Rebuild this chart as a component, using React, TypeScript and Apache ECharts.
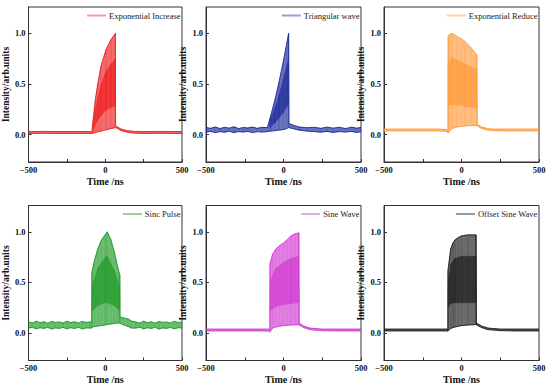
import { useEffect, useRef } from "react";
import * as echarts from "echarts";

const NAMES = ["Exponential Increase", "Triangular wave", "Exponential Reduce", "Sinc Pulse", "Sine Wave", "Offset Sine Wave"];
const COLORS = ["#ee1f1f", "#1c2a9a", "#ff9a3a", "#1e9a26", "#d13ad1", "#1c1c1c"];
const Y_TICKS = [0, 0.5, 1.0];

// Plot 1: Exponential Increase
const T1 = [-500, -400, -300, -200, -87, -81, -64, -49, -27, 5, 38, 66, 67, 80, 103, 140, 189, 250, 350, 500];
const HI1 = [0.03, 0.032, 0.03, 0.031, 0.03, 0.12, 0.35, 0.5, 0.68, 0.84, 0.94, 1.0, 0.09, 0.075, 0.055, 0.04, 0.032, 0.03, 0.031, 0.03];
const LO1 = [0.012, 0.013, 0.012, 0.012, 0.012, 0.015, 0.022, 0.028, 0.035, 0.048, 0.06, 0.07, 0.07, 0.06, 0.04, 0.025, 0.015, 0.012, 0.013, 0.012];
const TI1 = [-81, -64, -49, -27, 5, 38, 65];
const INLO1 = [0.04, 0.1, 0.14, 0.19, 0.24, 0.27, 0.28];
const INHI1 = [0.09, 0.26, 0.37, 0.5, 0.63, 0.7, 0.75];

// Plot 2: Triangular wave
const T2 = [-500, -470, -440, -410, -380, -350, -320, -290, -260, -230, -200, -170, -140, -104, -80, -54, -30, 0, 20, 33, 35, 60, 100, 150, 200, 240, 280, 320, 360, 400, 440, 470, 500];
const HI2 = [0.07, 0.062, 0.076, 0.06, 0.072, 0.064, 0.078, 0.06, 0.07, 0.066, 0.075, 0.062, 0.072, 0.07, 0.2, 0.35, 0.51, 0.73, 0.89, 1.0, 0.11, 0.095, 0.075, 0.068, 0.072, 0.062, 0.074, 0.064, 0.072, 0.06, 0.074, 0.064, 0.07];
const LO2 = [0.025, 0.032, 0.02, 0.03, 0.024, 0.033, 0.02, 0.03, 0.026, 0.032, 0.02, 0.03, 0.025, 0.03, 0.035, 0.04, 0.045, 0.05, 0.06, 0.07, 0.07, 0.06, 0.045, 0.035, 0.03, 0.024, 0.032, 0.022, 0.03, 0.026, 0.032, 0.022, 0.028];
const TI2 = [-90, -54, -30, 0, 20, 32];
const INLO2 = [0.06, 0.12, 0.16, 0.22, 0.27, 0.3];
const INHI2 = [0.13, 0.27, 0.39, 0.56, 0.68, 0.76];

// Plot 3: Exponential Reduce
const T3 = [-500, -300, -150, -95, -87, -86, -75, -61, -30, 0, 22, 60, 98, 100, 101, 130, 170, 200, 300, 500];
const HI3 = [0.055, 0.055, 0.055, 0.05, 0.03, 0.97, 0.99, 1.0, 0.97, 0.945, 0.92, 0.86, 0.79, 0.79, 0.105, 0.075, 0.06, 0.055, 0.055, 0.055];
const LO3 = [0.037, 0.037, 0.037, 0.033, 0.015, 0.02, 0.04, 0.06, 0.075, 0.082, 0.086, 0.09, 0.09, 0.09, 0.085, 0.06, 0.045, 0.04, 0.037, 0.037];
const TI3 = [-86, -61, -30, 0, 22, 60, 99];
const INLO3 = [0.29, 0.3, 0.29, 0.285, 0.28, 0.27, 0.26];
const INHI3 = [0.73, 0.76, 0.74, 0.72, 0.7, 0.67, 0.64];

// Plot 4: Sinc Pulse
const T4 = [-500, -475, -450, -425, -400, -375, -350, -325, -300, -275, -250, -225, -200, -175, -150, -125, -100, -88, -87, -70, -49, -25, -1, 12, 35, 59, 80, 92, 95, 96, 120, 150, 170, 200, 225, 250, 275, 300, 325, 350, 375, 400, 425, 450, 475, 500];
const HI4 = [0.11, 0.1, 0.118, 0.104, 0.112, 0.098, 0.116, 0.106, 0.11, 0.1, 0.118, 0.104, 0.112, 0.1, 0.116, 0.106, 0.11, 0.11, 0.6, 0.72, 0.83, 0.92, 0.97, 1.0, 0.93, 0.8, 0.66, 0.59, 0.58, 0.16, 0.15, 0.14, 0.12, 0.11, 0.1, 0.118, 0.104, 0.112, 0.098, 0.116, 0.106, 0.11, 0.1, 0.118, 0.104, 0.11];
const LO4 = [0.05, 0.058, 0.042, 0.054, 0.046, 0.058, 0.04, 0.052, 0.047, 0.057, 0.042, 0.054, 0.046, 0.058, 0.041, 0.052, 0.05, 0.05, 0.06, 0.065, 0.07, 0.075, 0.08, 0.085, 0.09, 0.095, 0.1, 0.1, 0.1, 0.1, 0.08, 0.065, 0.05, 0.05, 0.058, 0.042, 0.054, 0.046, 0.058, 0.04, 0.052, 0.047, 0.057, 0.042, 0.054, 0.05];
const TI4 = [-86, -49, -1, 12, 59, 94];
const INLO4 = [0.22, 0.27, 0.3, 0.3, 0.27, 0.22];
const INHI4 = [0.47, 0.64, 0.75, 0.77, 0.62, 0.46];

// Plot 5: Sine Wave
const T5 = [-500, -300, -150, -95, -88, -87, -70, -50, -25, 0, 25, 48, 75, 98, 100, 101, 130, 170, 250, 350, 500];
const HI5 = [0.04, 0.04, 0.04, 0.04, 0.03, 0.69, 0.78, 0.83, 0.865, 0.89, 0.925, 0.96, 0.98, 0.99, 0.99, 0.1, 0.07, 0.05, 0.04, 0.04, 0.04];
const LO5 = [0.022, 0.022, 0.022, 0.02, 0.01, 0.015, 0.05, 0.06, 0.068, 0.075, 0.078, 0.08, 0.082, 0.083, 0.083, 0.08, 0.055, 0.035, 0.024, 0.022, 0.022];
const TI5 = [-86, -50, 0, 48, 99];
const INLO5 = [0.22, 0.26, 0.28, 0.29, 0.3];
const INHI5 = [0.52, 0.64, 0.7, 0.74, 0.76];

// Plot 6: Offset Sine Wave
const T6 = [-500, -300, -150, -95, -88, -87, -70, -55, -43, -20, 0, 40, 93, 95, 96, 130, 170, 250, 350, 500];
const HI6 = [0.04, 0.04, 0.04, 0.04, 0.035, 0.62, 0.83, 0.89, 0.92, 0.945, 0.96, 0.97, 0.97, 0.97, 0.1, 0.07, 0.05, 0.04, 0.04, 0.04];
const LO6 = [0.022, 0.022, 0.022, 0.022, 0.02, 0.025, 0.045, 0.055, 0.06, 0.068, 0.075, 0.08, 0.085, 0.085, 0.08, 0.055, 0.035, 0.025, 0.022, 0.022];
const TI6 = [-86, -70, -43, 0, 94];
const INLO6 = [0.25, 0.29, 0.3, 0.3, 0.3];
const INHI6 = [0.5, 0.68, 0.74, 0.76, 0.76];

const PLOTS = [
  { t: T1, hi: HI1, lo: LO1, ti: TI1, inlo: INLO1, inhi: INHI1 },
  { t: T2, hi: HI2, lo: LO2, ti: TI2, inlo: INLO2, inhi: INHI2 },
  { t: T3, hi: HI3, lo: LO3, ti: TI3, inlo: INLO3, inhi: INHI3 },
  { t: T4, hi: HI4, lo: LO4, ti: TI4, inlo: INLO4, inhi: INHI4 },
  { t: T5, hi: HI5, lo: LO5, ti: TI5, inlo: INLO5, inhi: INHI5 },
  { t: T6, hi: HI6, lo: LO6, ti: TI6, inlo: INLO6, inhi: INHI6 },
];

const LEFTS = [27, 206, 384];
const TOPS = [7, 205.5];
const W = 155;
const H = 155;
const FONT = "'Liberation Serif', 'Times New Roman', serif";

function fmtX(v: number) {
  if (v % 500 !== 0) return "";
  if (v < 0) return "\u2212" + Math.abs(v);
  return String(v);
}

// segments [t0, lo0, hi0, t1, lo1, hi1] for a band polygon
function segments(t: number[], lo: number[], hi: number[]) {
  const out: number[][] = [];
  for (let k = 0; k < t.length - 1; k++) out.push([t[k], lo[k], hi[k], t[k + 1], lo[k + 1], hi[k + 1]]);
  return out;
}

function bandSeries(i: number, data: number[][], color: string, opacity: number, z: number) {
  return {
    type: "custom",
    xAxisIndex: i,
    yAxisIndex: i,
    clip: true,
    z,
    silent: true,
    encode: { x: [0, 3], y: [1, 2, 4, 5] },
    data,
    renderItem: (_params: any, api: any) => {
      const a = api.coord([api.value(0), api.value(1)]);
      const b = api.coord([api.value(0), api.value(2)]);
      const c = api.coord([api.value(3), api.value(5)]);
      const d = api.coord([api.value(3), api.value(4)]);
      return {
        type: "polygon",
        shape: { points: [a, b, c, d] },
        style: { fill: color, opacity, stroke: color, lineWidth: 0.3 },
      };
    },
  };
}

export default function App() {
  const ref = useRef<HTMLDivElement>(null);
  useEffect(() => {
    if (!ref.current) return;
    const chart = echarts.init(ref.current, null, { renderer: "svg" });
    const grids: any[] = [];
    const xAxes: any[] = [];
    const yAxes: any[] = [];
    const legends: any[] = [];
    const series: any[] = [];
    PLOTS.forEach((p, i) => {
      const col = i % 3;
      const row = Math.floor(i / 3);
      const left = LEFTS[col];
      const top = TOPS[row];
      const c = COLORS[i];
      grids.push({ left, top, width: W, height: H, show: true, borderColor: "#333", borderWidth: 1, backgroundColor: "transparent" });
      xAxes.push({
        type: "value", gridIndex: i, min: -500, max: 500, interval: 250,
        name: "Time /ns", nameLocation: "middle", nameGap: 14,
        nameTextStyle: { fontFamily: FONT, fontWeight: "bold", fontSize: 10, color: "#111" },
        axisLine: { onZero: false, lineStyle: { color: "#333", width: 1 } },
        axisTick: { inside: true, length: 3, lineStyle: { color: "#333" } },
        axisLabel: { formatter: fmtX, fontFamily: FONT, fontWeight: "bold", fontSize: 8.5, color: "#111", margin: 3, showMinLabel: true, showMaxLabel: true, hideOverlap: false },
        splitLine: { show: false },
      });
      yAxes.push({
        type: "value", gridIndex: i, min: -0.27, max: 1.26,
        name: "Intensity/arb.units", nameLocation: "middle", nameGap: 16,
        nameTextStyle: { fontFamily: FONT, fontWeight: "bold", fontSize: 9.5, color: "#111" },
        axisLine: { onZero: false, lineStyle: { color: "#333", width: 1 } },
        axisTick: { inside: true, length: 3, customValues: Y_TICKS, lineStyle: { color: "#333" } },
        axisLabel: { customValues: Y_TICKS, formatter: (v: number) => v.toFixed(1), fontFamily: FONT, fontWeight: "bold", fontSize: 8.5, color: "#111", margin: 3 },
        splitLine: { show: false },
      });
      legends.push({
        data: [{ name: NAMES[i], itemStyle: { color: c, opacity: 0.45 } }],
        right: 550 - (left + W) + 1.5,
        top: top + 4,
        padding: 0,
        itemWidth: 19,
        itemHeight: 2,
        itemGap: 2,
        icon: "rect",
        selectedMode: false,
        textStyle: { fontFamily: FONT, fontSize: 8.5, color: "#222", padding: [0, 0, 0, -2] },
      });
      series.push(bandSeries(i, segments(p.t, p.lo, p.hi), c, 0.65, 2));
      series.push(bandSeries(i, segments(p.ti, p.inlo, p.inhi), c, 0.7, 3));
      series.push({
        type: "line", xAxisIndex: i, yAxisIndex: i, symbol: "none", silent: true,
        data: p.t.map((t, k) => [t, p.lo[k]]),
        lineStyle: { color: c, width: 0.9 }, itemStyle: { color: c }, z: 4,
      });
      series.push({
        type: "line", name: NAMES[i], xAxisIndex: i, yAxisIndex: i, symbol: "none", silent: true,
        data: p.t.map((t, k) => [t, p.hi[k]]),
        lineStyle: { color: c, width: 0.9 }, itemStyle: { color: c }, z: 4,
      });
    });
    chart.setOption({
      animation: false,
      backgroundColor: "#fff",
      grid: grids,
      xAxis: xAxes,
      yAxis: yAxes,
      legend: legends,
      series,
    });
    return () => chart.dispose();
  }, []);
  return <div ref={ref} style={{ position: "fixed", left: 0, top: 0, width: 550, height: 390 }} />;
}
